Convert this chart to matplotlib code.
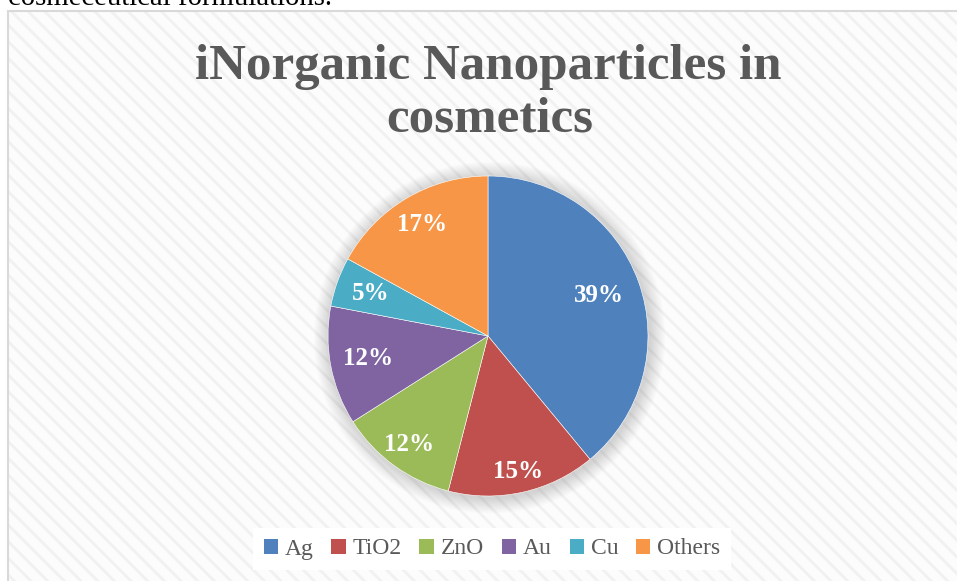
import matplotlib
matplotlib.use("Agg")
import matplotlib.pyplot as plt
from matplotlib.patches import Rectangle, Circle
import numpy as np

categories = ["Ag", "TiO2", "ZnO", "Au", "Cu", "Others"]
values = [39, 15, 12, 12, 5, 17]
colors = ["#4F81BD", "#C0504D", "#9BBB59", "#8064A2", "#4BACC6", "#F79646"]
label_radius = [0.74, 0.87, 0.84, 0.76, 0.78, 0.81]
title_lines = ["iNorganic Nanoparticles in", "cosmetics"]
caption = "cosmeceutical formulations."

W, H = 957, 581
DPI = 100
plt.rcParams["hatch.linewidth"] = 2.0
fig = plt.figure(figsize=(W / DPI, H / DPI), dpi=DPI)
fig.patch.set_facecolor("white")

def fx(px):
    return px / W

def fy(py):
    return 1 - py / H

# striped chart area
bg = Rectangle((fx(8), -0.02), 1.1, fy(11) + 0.02, transform=fig.transFigure,
               facecolor="#fcfcfc", edgecolor="#f1f1f1", hatch="\\\\", lw=0, zorder=-2)
fig.patches.append(bg)
frame = Rectangle((fx(8), -0.02), 1.1, fy(11) + 0.02, transform=fig.transFigure,
                  facecolor="none", edgecolor="#d9d9d9", lw=1.5, zorder=-1)
fig.patches.append(frame)

# partially visible caption above the chart
fig.text(fx(8), fy(5), caption, family="Liberation Serif", fontsize=20.7,
         color="black", ha="left", va="baseline")

# title
fig.text(fx(488), fy(79), title_lines[0], family="Liberation Serif", weight="bold",
         fontsize=36.7, color="#595959", ha="center", va="baseline")
fig.text(fx(490), fy(132), title_lines[1], family="Liberation Serif", weight="bold",
         fontsize=36.7, color="#595959", ha="center", va="baseline")

# pie axes: center (488,336), radius 160px
cx, cy, R = 488, 336, 160
half = 200
ax = fig.add_axes([fx(cx - half), fy(cy + half), 2 * half / W, 2 * half / H])
ax.set_zorder(2)
ax.patch.set_visible(False)
ax.set_xlim(-half / R, half / R)
ax.set_ylim(-half / R, half / R)
ax.set_aspect("equal")
ax.axis("off")

# soft shadow
for i in range(14):
    r = 1.0 + 0.007 * (14 - i)
    ax.add_patch(Circle((0.01, -0.01), r, facecolor="#808080", edgecolor="none",
                        alpha=0.022, zorder=1))

wedges, texts, autotexts = ax.pie(values, colors=colors, startangle=90,
                                  counterclock=False, radius=1.0,
                                  autopct="%1.0f%%", pctdistance=0.8,
                                  wedgeprops=dict(edgecolor="white", linewidth=0.4),
                                  textprops=dict(family="Liberation Serif",
                                                 weight="bold", fontsize=18,
                                                 color="white"))
for w in wedges:
    w.set_zorder(3)
for w, t, d in zip(wedges, autotexts, label_radius):
    ang = np.deg2rad((w.theta1 + w.theta2) / 2)
    t.set_position((d * np.cos(ang), d * np.sin(ang)))
    t.set_zorder(4)

leg = fig.legend(wedges, categories, loc="center", bbox_to_anchor=(fx(492), fy(549)),
                 ncol=6, frameon=True, fancybox=False, framealpha=1.0,
                 facecolor="white", edgecolor="none",
                 prop=dict(family="Liberation Serif", size=17),
                 handlelength=0.6, handleheight=0.6, handletextpad=0.3,
                 columnspacing=0.75, borderpad=0.45)
for t in leg.get_texts():
    t.set_color("#595959")
for h in leg.legend_handles:
    h.set_edgecolor("none")

fig.savefig("out.png", dpi=DPI, facecolor="white")
